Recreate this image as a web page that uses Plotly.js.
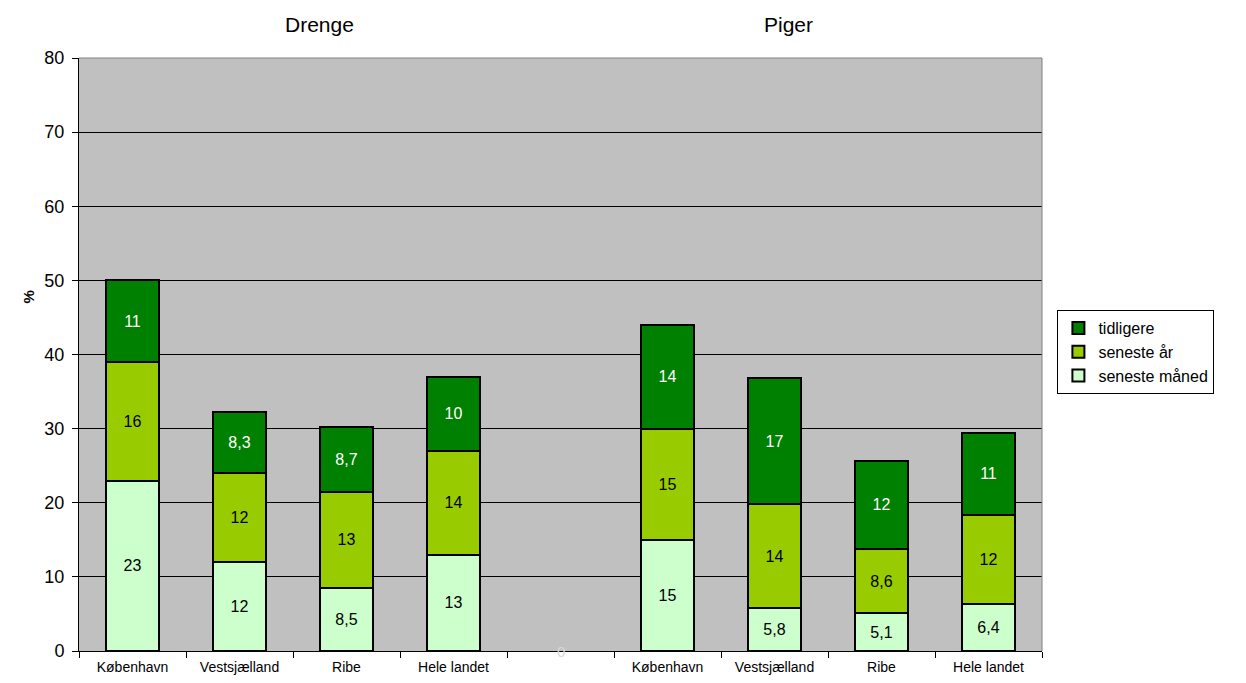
<!DOCTYPE html>
<html>
<head>
<meta charset="utf-8">
<script src="https://cdn.plot.ly/plotly-3.0.1.min.js"></script>
<style>
  html, body { margin: 0; padding: 0; background: #ffffff; }
  #chart { width: 1246px; height: 683px; }
</style>
</head>
<body>
<div id="chart"></div>
<script>
// Regions, boys first, then an empty spacer slot, then girls.
// The girls' labels carry a trailing space so the category axis keeps them apart.
const categories = [
  'København', 'Vestsjælland', 'Ribe', 'Hele landet',
  '\u00a0',
  'København ', 'Vestsjælland ', 'Ribe ', 'Hele landet '
];
const tickLabels = [
  'København', 'Vestsjælland', 'Ribe', 'Hele landet',
  '',
  'København', 'Vestsjælland', 'Ribe', 'Hele landet'
];

// Percent per period (stacked bottom to top)
const senesteMaaned = [23, 12, 8.5, 13, null, 15, 5.8, 5.1, 6.4];
const senesteAar    = [16, 12, 13, 14, null, 15, 14, 8.6, 12];
const tidligere     = [11, 8.3, 8.7, 10, null, 14, 17, 12, 11];

const groupTitles = ['Drenge', 'Piger'];

const fmt = v => (v === null ? '' : String(v).replace('.', ','));

function barTrace(name, values, fill, textColor) {
  return {
    type: 'bar',
    name: name,
    x: categories,
    y: values,
    text: values.map(fmt),
    textposition: 'inside',
    insidetextanchor: 'middle',
    textangle: 0,
    textfont: { family: 'Arial, Liberation Sans, sans-serif', size: 16, color: textColor },
    constraintext: 'none',
    marker: { color: fill, line: { color: '#000000', width: 2 } },
    hoverinfo: 'name+y'
  };
}

const data = [
  barTrace('seneste måned', senesteMaaned, '#ccffcc', '#000000'),
  barTrace('seneste år', senesteAar, '#99cc00', '#000000'),
  barTrace('tidligere', tidligere, '#008000', '#ffffff')
];

const font = 'Arial, Liberation Sans, sans-serif';

const layout = {
  width: 1246,
  height: 683,
  margin: { l: 79, r: 204, t: 58, b: 32, pad: 0 },
  paper_bgcolor: '#ffffff',
  plot_bgcolor: '#c0c0c0',
  barmode: 'stack',
  bargap: 0.5,
  font: { family: font, color: '#000000' },
  showlegend: true,
  legend: {
    x: 1.016, y: 0.575, xanchor: 'left', yanchor: 'top',
    traceorder: 'reversed',
    bgcolor: '#ffffff',
    bordercolor: '#000000',
    borderwidth: 1,
    font: { family: font, size: 16, color: '#000000' },
    itemwidth: 30,
    tracegroupgap: 0
  },
  xaxis: {
    type: 'category',
    categoryorder: 'array',
    categoryarray: categories,
    tickmode: 'array',
    tickvals: categories,
    ticktext: tickLabels,
    tickson: 'boundaries',
    ticks: 'outside',
    ticklen: 6,
    tickcolor: '#000000',
    tickwidth: 1,
    ticklabelstandoff: 3,
    showgrid: false,
    showline: true,
    linecolor: '#000000',
    linewidth: 1,
    tickfont: { family: font, size: 14, color: '#000000' },
    fixedrange: true
  },
  yaxis: {
    range: [0, 80],
    dtick: 10,
    tick0: 0,
    ticks: 'outside',
    ticklen: 6,
    tickcolor: '#000000',
    ticklabelstandoff: 4,
    showgrid: true,
    gridcolor: '#000000',
    gridwidth: 1,
    zeroline: false,
    showline: true,
    linecolor: '#000000',
    linewidth: 1,
    tickfont: { family: font, size: 18, color: '#000000' },
    fixedrange: true
  },
  shapes: [
    // grey frame on the top and right of the plotting area
    { type: 'line', xref: 'paper', yref: 'paper', x0: 0, x1: 1, y0: 1, y1: 1,
      line: { color: '#808080', width: 1 } },
    { type: 'line', xref: 'paper', yref: 'paper', x0: 1, x1: 1, y0: 0, y1: 1,
      line: { color: '#808080', width: 1 } }
  ],
  annotations: [
    { text: groupTitles[0], xref: 'paper', yref: 'paper', x: 0.212, y: 1,
      yanchor: 'bottom', yshift: 20, showarrow: false,
      font: { family: font, size: 21, color: '#000000' } },
    { text: groupTitles[1], xref: 'paper', yref: 'paper', x: 0.764, y: 1,
      yanchor: 'bottom', yshift: 20, showarrow: false,
      font: { family: font, size: 21, color: '#000000' } },
    { text: '<b>%</b>', xref: 'paper', yref: 'paper', x: 0, xshift: -61, y: 0.597,
      textangle: -90, showarrow: false,
      font: { family: font, size: 15, color: '#000000' } },
    // zero label of the empty spacer slot
    { text: '0', xref: 'x', yref: 'y', x: categories[4], y: 0,
      yanchor: 'middle', showarrow: false,
      font: { family: font, size: 15, color: '#d8d8d8' } }
  ]
};

Plotly.newPlot('chart', data, layout, { staticPlot: true, displayModeBar: false });
</script>
</body>
</html>
